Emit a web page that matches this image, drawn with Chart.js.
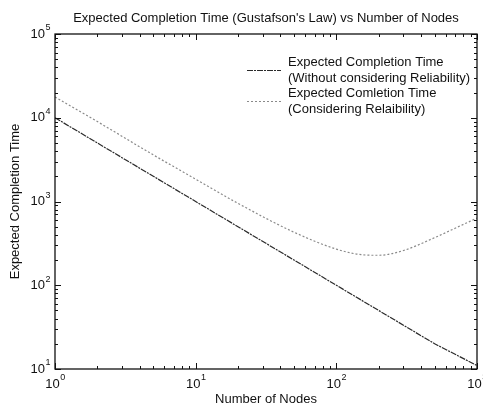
<!DOCTYPE html>
<html>
<head>
<meta charset="utf-8">
<script src="https://cdn.jsdelivr.net/npm/chart.js@4.4.1/dist/chart.umd.min.js"></script>
<style>
  html, body { margin: 0; padding: 0; background: #fff; }
  #wrap { width: 483px; height: 409px; }
</style>
</head>
<body>
<div id="wrap"><canvas id="chart" width="483" height="409"></canvas></div>
<script>
// chart data
const nodesPlain = [1, 2, 5, 10, 20, 50, 100, 200, 500, 1000];
const timePlain = [10000, 5000, 2000, 1000, 500, 200, 100, 50, 20, 11];

const nodesRel = [1, 2, 5, 10, 20, 50, 100, 150, 200, 300, 500, 700, 1000];
const timeRel = [17700, 9000, 3600, 1850, 950, 430, 270, 232, 228, 260, 370, 480, 635];

const xDecades = [0, 1, 2, 3];
const yDecades = [1, 2, 3, 4, 5];

const titleText = "Expected Completion Time (Gustafson's Law) vs Number of Nodes";
const xTitle = 'Number of Nodes';
const yTitle = 'Expected Completion Time';
const legendLabels = [
  ['Expected Completion Time', '(Without considering Reliability)'],
  ['Expected Comletion Time', '(Considering Relaibility)']
];
// end of chart data

const FONT = "'Liberation Sans', Arial, sans-serif";
const lineColors = ['#2a2a2a', '#8a8a8a'];
const lineDashes = [[6, 1, 2, 1], [2, 2]];

const toPoints = function(xs, ys) {
  return xs.map(function(x, i) { return { x: x, y: ys[i] }; });
};

// draws "10" with a small raised exponent
const drawPower = function(ctx, exp, x, y, align) {
  ctx.font = '13px ' + FONT;
  const baseW = ctx.measureText('10').width;
  ctx.font = '9px ' + FONT;
  const expW = ctx.measureText(String(exp)).width;
  let left = x;
  if (align === 'center') left = x - (baseW + expW) / 2;
  if (align === 'right') left = x - baseW - expW;
  ctx.textAlign = 'left';
  ctx.textBaseline = 'middle';
  ctx.font = '13px ' + FONT;
  ctx.fillText('10', left, y);
  ctx.font = '9px ' + FONT;
  ctx.fillText(String(exp), left + baseW + 0.5, y - 6);
};

const matlabFrame = {
  id: 'matlabFrame',
  afterDraw: function(chart) {
    const ctx = chart.ctx;
    const area = chart.chartArea;
    const xs = chart.scales.x;
    const ys = chart.scales.y;

    ctx.save();
    ctx.fillStyle = '#111';
    ctx.strokeStyle = '#111';

    // box
    ctx.lineWidth = 1.3;
    ctx.strokeRect(area.left, area.top, area.right - area.left, area.bottom - area.top);

    // inward tick marks on all four sides
    ctx.lineWidth = 1;
    ctx.beginPath();
    xDecades.forEach(function(d) {
      for (let m = 1; m <= 9; m++) {
        const v = m * Math.pow(10, d);
        if (v > 1000) break;
        const px = Math.round(xs.getPixelForValue(v)) + 0.5;
        const len = m === 1 ? 6 : 3;
        ctx.moveTo(px, area.bottom);
        ctx.lineTo(px, area.bottom - len);
        ctx.moveTo(px, area.top);
        ctx.lineTo(px, area.top + len);
      }
    });
    yDecades.forEach(function(d) {
      for (let m = 1; m <= 9; m++) {
        const v = m * Math.pow(10, d);
        if (v > 100000) break;
        const py = Math.round(ys.getPixelForValue(v)) + 0.5;
        const len = m === 1 ? 6 : 3;
        ctx.moveTo(area.left, py);
        ctx.lineTo(area.left + len, py);
        ctx.moveTo(area.right, py);
        ctx.lineTo(area.right - len, py);
      }
    });
    ctx.stroke();

    // tick labels
    xDecades.forEach(function(d) {
      drawPower(ctx, d, xs.getPixelForValue(Math.pow(10, d)), area.bottom + 15, 'center');
    });
    yDecades.forEach(function(d) {
      drawPower(ctx, d, area.left - 5, ys.getPixelForValue(Math.pow(10, d)), 'right');
    });

    // titles
    const midX = (area.left + area.right) / 2;
    const midY = (area.top + area.bottom) / 2;
    ctx.font = '13px ' + FONT;
    ctx.textAlign = 'center';
    ctx.textBaseline = 'middle';
    ctx.fillText(titleText, midX, 18);
    ctx.fillText(xTitle, midX, 399);
    ctx.save();
    ctx.translate(15, midY);
    ctx.rotate(-Math.PI / 2);
    ctx.fillText(yTitle, 0, 0);
    ctx.restore();

    // legend (no box, as in the original)
    const rowY = [70, 101];
    legendLabels.forEach(function(lines, i) {
      ctx.beginPath();
      ctx.strokeStyle = lineColors[i];
      ctx.setLineDash(lineDashes[i]);
      ctx.moveTo(247, rowY[i] + 0.5);
      ctx.lineTo(281, rowY[i] + 0.5);
      ctx.stroke();
      ctx.setLineDash([]);
      ctx.textAlign = 'left';
      ctx.fillStyle = '#111';
      ctx.fillText(lines[0], 288, rowY[i] - 7.5);
      ctx.fillText(lines[1], 288, rowY[i] + 8);
    });

    ctx.restore();
  }
};

const chart = new Chart(document.getElementById('chart'), {
  type: 'line',
  data: {
    datasets: [
      {
        label: legendLabels[0].join(' '),
        data: toPoints(nodesPlain, timePlain),
        borderColor: lineColors[0],
        borderDash: lineDashes[0],
        borderWidth: 1.2,
        pointRadius: 0,
        tension: 0
      },
      {
        label: legendLabels[1].join(' '),
        data: toPoints(nodesRel, timeRel),
        borderColor: lineColors[1],
        borderDash: lineDashes[1],
        borderWidth: 1.2,
        pointRadius: 0,
        cubicInterpolationMode: 'monotone'
      }
    ]
  },
  options: {
    responsive: false,
    animation: false,
    layout: { padding: { top: 34, right: 6, left: 0, bottom: 0 } },
    plugins: {
      legend: { display: false },
      title: { display: false },
      tooltip: { enabled: false }
    },
    scales: {
      x: {
        type: 'logarithmic',
        min: 1,
        max: 1000,
        grid: { display: false, drawTicks: false },
        border: { display: false },
        ticks: { display: false },
        afterFit: function(scale) { scale.height = 40; }
      },
      y: {
        type: 'logarithmic',
        min: 10,
        max: 100000,
        grid: { display: false, drawTicks: false },
        border: { display: false },
        ticks: { display: false },
        afterFit: function(scale) { scale.width = 55; }
      }
    }
  },
  plugins: [matlabFrame]
});
</script>
</body>
</html>
